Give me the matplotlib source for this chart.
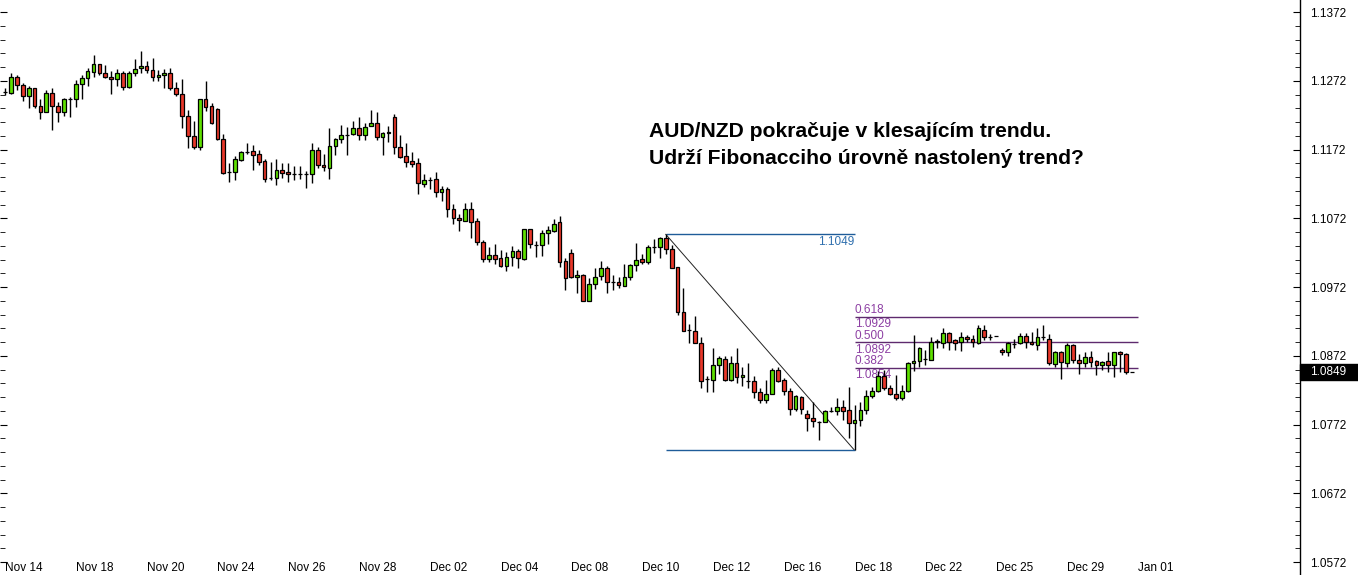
import numpy as np
import matplotlib.pyplot as plt
from matplotlib.patches import Rectangle
from matplotlib.ticker import FixedLocator, FormatStrFormatter
from matplotlib.transforms import blended_transform_factory

plt.rcParams['font.family'] = ['Liberation Sans', 'DejaVu Sans']

# AUD/NZD H4 candles
opens = [
    1.1255, 1.1254, 1.1277, 1.1266, 1.1250, 1.1261, 1.1236, 1.1227, 1.1254, 1.1235, 1.1226, 1.1245,
    1.1245, 1.1267, 1.1276, 1.1285, 1.1296, 1.1284, 1.1277, 1.1274, 1.1284, 1.1263, 1.1284, 1.1290,
    1.1293, 1.1288, 1.1278, 1.1281, 1.1284, 1.1261, 1.1253, 1.1221, 1.1192, 1.1176, 1.1245, 1.1235,
    1.1231, 1.1188, 1.1140, 1.1140, 1.1157, 1.1169, 1.1170, 1.1165, 1.1156, 1.1131, 1.1131, 1.1142,
    1.1139, 1.1136, 1.1136, 1.1136, 1.1136, 1.1172, 1.1149, 1.1145, 1.1177, 1.1187, 1.1193, 1.1194,
    1.1204, 1.1193, 1.1206, 1.1211, 1.1190, 1.1196, 1.1219, 1.1175, 1.1162, 1.1155, 1.1152, 1.1122,
    1.1128, 1.1129, 1.1110, 1.1115, 1.1085, 1.1073, 1.1068, 1.1086, 1.1068, 1.1037, 1.1013, 1.1019,
    1.1014, 1.1003, 1.1016, 1.1024, 1.1013, 1.1056, 1.1033, 1.1033, 1.1051, 1.1054, 1.1066, 1.1010,
    1.1021, 1.0986, 1.0990, 1.0952, 1.0976, 1.0988, 1.0999, 1.0980, 1.0979, 1.0974, 1.0987, 1.1004,
    1.1013, 1.1009, 1.1030, 1.1030, 1.1044, 1.1028, 1.1001, 1.0936, 1.0909, 1.0908, 1.0890, 1.0838,
    1.0837, 1.0858, 1.0868, 1.0837, 1.0862, 1.0841, 1.0836, 1.0836, 1.0819, 1.0808, 1.0816, 1.0852,
    1.0837, 1.0821, 1.0794, 1.0812, 1.0787, 1.0782, 1.0776, 1.0776, 1.0792, 1.0792, 1.0797, 1.0793,
    1.0774, 1.0779, 1.0793, 1.0813, 1.0821, 1.0842, 1.0825, 1.0816, 1.0811, 1.0821, 1.0861, 1.0864,
    1.0868, 1.0866, 1.0892, 1.0890, 1.0905, 1.0895, 1.0892, 1.0899, 1.0896, 1.0891, 1.0910, 1.0900,
    1.0901, 1.0881, 1.0877, 1.0889, 1.0890, 1.0901, 1.0892, 1.0888, 1.0899, 1.0897, 1.0860, 1.0878,
    1.0861, 1.0888, 1.0866, 1.0861, 1.0870, 1.0864, 1.0859, 1.0864, 1.0859, 1.0877, 1.0874, 1.0849,
]
highs = [
    1.1262, 1.1284, 1.1280, 1.1269, 1.1264, 1.1262, 1.1245, 1.1259, 1.1261, 1.1241, 1.1247, 1.1249,
    1.1273, 1.1281, 1.1290, 1.1309, 1.1297, 1.1295, 1.1286, 1.1289, 1.1286, 1.1286, 1.1304, 1.1315,
    1.1301, 1.1305, 1.1288, 1.1289, 1.1290, 1.1270, 1.1275, 1.1229, 1.1213, 1.1245, 1.1271, 1.1239,
    1.1233, 1.1195, 1.1153, 1.1162, 1.1170, 1.1182, 1.1179, 1.1171, 1.1158, 1.1154, 1.1158, 1.1152,
    1.1152, 1.1148, 1.1148, 1.1141, 1.1181, 1.1175, 1.1165, 1.1203, 1.1189, 1.1207, 1.1205, 1.1213,
    1.1219, 1.1210, 1.1229, 1.1226, 1.1197, 1.1206, 1.1223, 1.1193, 1.1181, 1.1168, 1.1160, 1.1137,
    1.1132, 1.1139, 1.1119, 1.1118, 1.1093, 1.1078, 1.1094, 1.1095, 1.1072, 1.1041, 1.1030, 1.1035,
    1.1026, 1.1023, 1.1031, 1.1027, 1.1057, 1.1057, 1.1039, 1.1055, 1.1061, 1.1071, 1.1075, 1.1014,
    1.1027, 1.0997, 1.0991, 1.0985, 1.0999, 1.1010, 1.1003, 1.0989, 1.0987, 1.1006, 1.1006, 1.1036,
    1.1020, 1.1033, 1.1042, 1.1045, 1.10486, 1.1033, 1.1001, 1.0971, 1.0918, 1.0930, 1.0900, 1.0842,
    1.0884, 1.0871, 1.0871, 1.0871, 1.0883, 1.0855, 1.0862, 1.0842, 1.0825, 1.0837, 1.0854, 1.0856,
    1.0839, 1.0825, 1.0815, 1.0813, 1.0793, 1.0805, 1.0777, 1.0793, 1.0798, 1.0811, 1.0808, 1.0827,
    1.0800, 1.0805, 1.0822, 1.0827, 1.0850, 1.0851, 1.0829, 1.0844, 1.0829, 1.0863, 1.0902, 1.0885,
    1.0881, 1.0899, 1.0896, 1.0912, 1.0907, 1.0897, 1.0906, 1.0902, 1.0902, 1.0917, 1.0917, 1.0904,
    1.0901, 1.0883, 1.0892, 1.0897, 1.0905, 1.0905, 1.0907, 1.0912, 1.0917, 1.0904, 1.0879, 1.0879,
    1.0890, 1.0889, 1.0875, 1.0878, 1.0879, 1.0866, 1.0865, 1.0877, 1.0878, 1.0879, 1.0876, 1.0849,
]
lows = [
    1.1251, 1.1253, 1.1259, 1.1242, 1.1232, 1.1232, 1.1216, 1.1226, 1.1201, 1.1212, 1.1221, 1.1219,
    1.1234, 1.1245, 1.1265, 1.1277, 1.1281, 1.1276, 1.1253, 1.1265, 1.1258, 1.1262, 1.1279, 1.1284,
    1.1284, 1.1272, 1.1271, 1.1262, 1.1258, 1.1250, 1.1203, 1.1174, 1.1173, 1.1172, 1.1228, 1.1209,
    1.1186, 1.1137, 1.1125, 1.1128, 1.1155, 1.1166, 1.1142, 1.1149, 1.1125, 1.1128, 1.1120, 1.1131,
    1.1125, 1.1128, 1.1129, 1.1116, 1.1124, 1.1145, 1.1141, 1.1129, 1.1164, 1.1182, 1.1164, 1.1193,
    1.1186, 1.1186, 1.1206, 1.1186, 1.1164, 1.1183, 1.1165, 1.1160, 1.1147, 1.1146, 1.1108, 1.1118,
    1.1115, 1.1103, 1.1097, 1.1074, 1.1063, 1.1054, 1.1068, 1.1044, 1.1033, 1.1009, 1.1008, 1.1006,
    1.1001, 1.0996, 1.1003, 1.1000, 1.1011, 1.1029, 1.1016, 1.1017, 1.1034, 1.1052, 1.1001, 1.0967,
    1.0985, 1.0964, 1.0951, 1.0952, 1.0969, 1.0982, 1.0963, 1.0968, 1.0970, 1.0974, 1.0982, 1.0995,
    1.1006, 1.1005, 1.1021, 1.1014, 1.1020, 1.0999, 1.0932, 1.0908, 1.0891, 1.0890, 1.0825, 1.0819,
    1.0819, 1.0846, 1.0835, 1.0835, 1.0832, 1.0828, 1.0825, 1.0810, 1.0804, 1.0803, 1.0816, 1.0834,
    1.0815, 1.0786, 1.0792, 1.0787, 1.0763, 1.0769, 1.0750, 1.0776, 1.0790, 1.0786, 1.0779, 1.0752,
    1.07345, 1.0770, 1.0788, 1.0811, 1.0819, 1.0822, 1.0815, 1.0808, 1.0808, 1.0820, 1.0850, 1.0856,
    1.0859, 1.0866, 1.0884, 1.0884, 1.0881, 1.0881, 1.0879, 1.0892, 1.0885, 1.0889, 1.0895, 1.0895,
    1.0901, 1.0873, 1.0872, 1.0883, 1.0889, 1.0884, 1.0888, 1.0881, 1.0895, 1.0859, 1.0856, 1.0838,
    1.0855, 1.0861, 1.0845, 1.0855, 1.0855, 1.0844, 1.0851, 1.0849, 1.0841, 1.0849, 1.0846, 1.0849,
]
closes = [
    1.1256, 1.1277, 1.1266, 1.1250, 1.1261, 1.1236, 1.1227, 1.1254, 1.1235, 1.1226, 1.1246, 1.1246,
    1.1267, 1.1276, 1.1286, 1.1296, 1.1284, 1.1277, 1.1274, 1.1284, 1.1263, 1.1284, 1.1289, 1.1294,
    1.1287, 1.1278, 1.1281, 1.1284, 1.1261, 1.1253, 1.1221, 1.1191, 1.1176, 1.1245, 1.1234, 1.1211,
    1.1187, 1.1138, 1.1139, 1.1158, 1.1168, 1.1169, 1.1164, 1.1154, 1.1129, 1.1130, 1.1142, 1.1138,
    1.1136, 1.1136, 1.1136, 1.1136, 1.1172, 1.1150, 1.1146, 1.1177, 1.1187, 1.1193, 1.1193, 1.1204,
    1.1193, 1.1205, 1.1211, 1.1190, 1.1196, 1.1197, 1.1175, 1.1161, 1.1154, 1.1151, 1.1124, 1.1128,
    1.1128, 1.1110, 1.1115, 1.1085, 1.1073, 1.1069, 1.1086, 1.1067, 1.1037, 1.1013, 1.1019, 1.1013,
    1.1003, 1.1016, 1.1024, 1.1014, 1.1056, 1.1034, 1.1033, 1.1051, 1.1055, 1.1064, 1.1009, 1.0985,
    1.0986, 1.0990, 1.0952, 1.0976, 1.0987, 1.0999, 1.0980, 1.0980, 1.0975, 1.0987, 1.1004, 1.1012,
    1.1009, 1.1030, 1.1030, 1.1044, 1.1028, 1.1000, 1.0935, 1.0908, 1.0909, 1.0891, 1.0836, 1.0838,
    1.0858, 1.0869, 1.0837, 1.0862, 1.0841, 1.0844, 1.0836, 1.0819, 1.0808, 1.0816, 1.0852, 1.0836,
    1.0821, 1.0794, 1.0813, 1.0794, 1.0781, 1.0777, 1.0776, 1.0791, 1.0792, 1.0797, 1.0792, 1.0774,
    1.0779, 1.0793, 1.0813, 1.0821, 1.0842, 1.0825, 1.0816, 1.0811, 1.0821, 1.0862, 1.0864, 1.0884,
    1.0868, 1.0892, 1.0893, 1.0905, 1.0892, 1.0890, 1.0899, 1.0896, 1.0892, 1.0912, 1.0899, 1.0900,
    1.0901, 1.0878, 1.0890, 1.0889, 1.0901, 1.0892, 1.0889, 1.0900, 1.0899, 1.0861, 1.0878, 1.0863,
    1.0888, 1.0866, 1.0861, 1.0870, 1.0863, 1.0859, 1.0863, 1.0859, 1.0877, 1.0874, 1.0849, 1.0849,
]

date_labels = ['Nov 14', 'Nov 18', 'Nov 20', 'Nov 24', 'Nov 26', 'Nov 28', 'Dec 02', 'Dec 04',
               'Dec 08', 'Dec 10', 'Dec 12', 'Dec 16', 'Dec 18', 'Dec 22', 'Dec 25', 'Dec 29',
               'Jan 01']
bars_per_label = 12

price_ticks = [1.0572, 1.0672, 1.0772, 1.0872, 1.0972, 1.1072, 1.1172, 1.1272, 1.1372]
fib_ratios = [0.618, 0.500, 0.382]

title = ('AUD/NZD pokračuje v klesajícím trendu.\n'
         'Udrží Fibonacciho úrovně nastolený trend?')

o = np.array(opens)
h = np.array(highs)
l = np.array(lows)
c = np.array(closes)
x = np.arange(len(c))

GREEN = '#5ee000'
RED = '#e8372a'
FIB_BLUE = '#1f5c99'
FIB_PURPLE = '#5e2a6e'
FIB_TEXT = '#8d3fa3'

fig = plt.figure(figsize=(13.58, 5.75), dpi=100)
ax = fig.add_axes([0, 0, 1300 / 1358, 1])

# candles
body_colors = np.where(c >= o, GREEN, RED)
ax.vlines(x, l, h, color='black', lw=1, zorder=3)
ax.bar(x, c - o, bottom=o, width=0.64, color=body_colors, edgecolor='black',
       linewidth=0.9, zorder=4)

# fibonacci retracement (swing high -> swing low)
hi_idx = int(np.argmax(h[100:130])) + 100
lo_idx = int(np.argmin(l[hi_idx:170])) + hi_idx
hi, lo = h[hi_idx], l[lo_idx]
ax.plot([hi_idx, lo_idx], [hi, lo], color='#222222', lw=0.7, zorder=2)
ax.hlines([hi, lo], hi_idx, lo_idx, color=FIB_BLUE, lw=1, zorder=2)
ax.text(lo_idx, hi - 0.0002, f'{hi:.4f}', ha='right', va='top', color='#2f6fae',
        fontsize=8.5, zorder=1)
fib_end = len(c)
for r in fib_ratios:
    lvl = lo + r * (hi - lo)
    ax.hlines(lvl, lo_idx, fib_end, color=FIB_PURPLE, lw=1, zorder=2)
    ax.text(lo_idx, lvl + 0.0001, f'{r:.3f}', ha='left', va='bottom', color=FIB_TEXT,
            fontsize=8.5, zorder=1)
    ax.text(lo_idx, lvl - 0.0002, f'{lvl:.4f}', ha='left', va='top', color=FIB_TEXT,
            fontsize=8.5, zorder=1)

ax.set_xlim(-0.85, 219.5)
ax.set_ylim(1.05531, 1.13895)

for side in ['top', 'bottom', 'left']:
    ax.spines[side].set_visible(False)
ax.spines['right'].set_color('black')
ax.spines['right'].set_linewidth(1)

ax.yaxis.set_major_locator(FixedLocator(price_ticks))
ax.yaxis.set_minor_locator(FixedLocator(np.arange(price_ticks[0] - 0.002, price_ticks[-1] + 0.003, 0.002)))
ax.yaxis.set_major_formatter(FormatStrFormatter('%.4f'))
ax.tick_params(axis='y', which='both', left=True, right=True, labelleft=False,
               labelright=True, direction='in', labelsize=8.5, pad=7)
ax.tick_params(axis='y', which='major', length=5)
ax.tick_params(axis='y', which='minor', length=3.5)

ax.set_xticks(np.arange(len(date_labels)) * bars_per_label)
ax.set_xticklabels(date_labels, ha='left')
ax.tick_params(axis='x', length=0, direction='in', pad=-9.5, labelsize=8.5)

# current price marker
last = c[-1]
trans = blended_transform_factory(ax.transAxes, ax.transData)
box_h = 16 / 6875
ax.add_patch(Rectangle((1.0, last - box_h / 2), 58 / 1300, box_h, transform=trans,
                       color='black', clip_on=False, zorder=5))
ax.text(1.0 + 10 / 1300, last, f'{last:.4f}', transform=trans, color='white',
        fontsize=8.5, va='center', ha='left', clip_on=False, zorder=6)

fig.text(649 / 1358, 1 - 122 / 575, title, ha='left', va='top', fontsize=15.2,
         fontweight='bold', linespacing=1.5)

fig.savefig('out.png', dpi=100)
